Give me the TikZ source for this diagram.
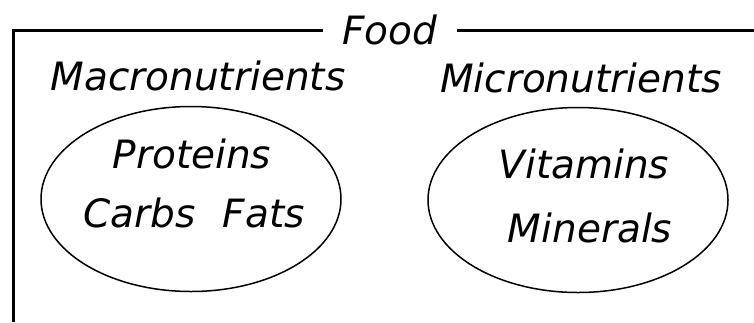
\documentclass[tikz,border=0pt]{standalone}
\usepackage{fontspec}
\setmainfont{DejaVu Sans}
\usepackage{tikz}
\usetikzlibrary{shapes.geometric}

\begin{document}
\begin{tikzpicture}[
    x=1pt,y=-1pt,
    label/.style={font=\fontsize{39}{44}\selectfont\itshape, inner sep=0pt, anchor=base},
    group/.style={draw, ellipse, line width=1.5pt, minimum width=300pt, minimum height=185pt},
    frame/.style={line width=3pt}
  ]
    \useasboundingbox (0,0) rectangle (754,322);

    \node[label, anchor=center, minimum width=134pt] (food) at (390,30) {Food};
    \coordinate (nw) at (13,30);
    \coordinate (sw) at (13,322);
    \coordinate (ne) at (754,30);

    \node[label] (macro) at (198,90) {Macronutrients};
    \node[label] (micro) at (581,92) {Micronutrients};

    \node[group] (macrogroup) at (191,199) {};
    \node[group] (microgroup) at (578,200) {};

    \node[label] (proteins) at (192,168) {Proteins};
    \node[label] (carbsfats) at (194,227) {Carbs\hspace{0.7em}Fats};
    \node[label] (vitamins) at (584,178) {Vitamins};
    \node[label] (minerals) at (590,242) {Minerals};

    \draw[frame] (food.west) -- (nw) -- (sw);
    \draw[frame] (food.east) -- (ne);
  \end{tikzpicture}
\end{document}
